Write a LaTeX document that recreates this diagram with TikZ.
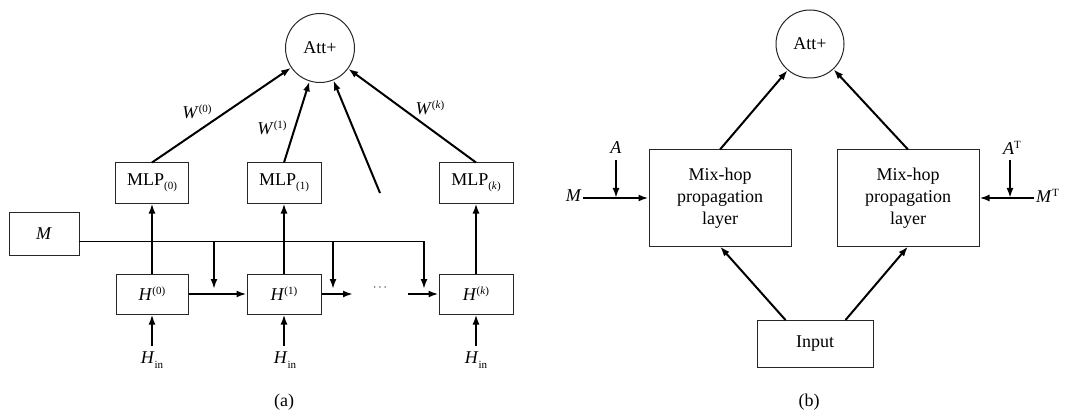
\documentclass[tikz,border=0pt]{standalone}
\usepackage{fontspec}
\setmainfont{Liberation Serif}
\usetikzlibrary{arrows.meta}
\newcommand{\sub}[1]{\raisebox{-0.55ex}{\fontsize{11}{12}\selectfont #1}}
\newcommand{\sups}[1]{\raisebox{0.75ex}{\fontsize{11}{12}\selectfont #1}}
\begin{document}
\begin{tikzpicture}[x=1pt,y=-1pt,
  every node/.style={font=\fontsize{18}{21}\selectfont, inner sep=0pt},
  box/.style={draw=black!85, line width=1pt},
  circ/.style={draw=black!85, line width=1pt, circle},
  arr/.style={line width=2pt, -{Latex[length=10pt,width=7pt]}},
  feed/.style={line width=1pt}
]
\useasboundingbox (0,0) rectangle (1070,414);

% ---------- (a) ----------
\node[circ, minimum size=69pt] (atta) at (320,48) {Att+};
\node[box, minimum width=73pt, minimum height=40pt] (mlp0) at (152,183) {MLP\sub{(0)}};
\node[box, minimum width=74pt, minimum height=40pt] (mlp1) at (284,183) {MLP\sub{(1)}};
\node[box, minimum width=74pt, minimum height=40pt] (mlpk) at (476,183) {MLP\sub{(\textit{k})}};
\node[box, minimum width=70pt, minimum height=43pt] (mbox) at (44,233.5) {\textit{M}};
\node[box, minimum width=72pt, minimum height=40pt] (h0) at (152,294) {\textit{H}\sups{(0)}};
\node[box, minimum width=74pt, minimum height=40pt] (h1) at (284,294) {\textit{H}\sups{(1)}};
\node[box, minimum width=74pt, minimum height=40pt] (hk) at (476,294) {\textit{H}\sups{(\textit{k})}};
\node[font=\fontsize{12}{14}\selectfont] (dots) at (380,288) {$\cdots$};
\node[anchor=north] (hin0) at (152,352) {\textit{H}\sub{in}};
\node[anchor=north] (hin1) at (285,352) {\textit{H}\sub{in}};
\node[anchor=north] (hink) at (476,352) {\textit{H}\sub{in}};
\coordinate (s0) at (152,346);
\coordinate (s1) at (284,346);
\coordinate (sk) at (476,346);

% weights into the attention sum
\draw[arr] (mlp0.north) -- (atta);
\draw[arr] (mlp1.north) -- (atta);
\draw[arr] (mlpk.north) -- (atta);
\coordinate (extra) at (380,193);
\draw[arr] (extra) -- (atta);
\node (w0) at (197,112) {\textit{W}\sups{(0)}};
\node (w1) at (272,128) {\textit{W}\sups{(1)}};
\node (wk) at (430,108) {\textit{W}\sups{(\textit{k})}};

% H to MLP
\draw[arr] (h0.north) -- (mlp0.south);
\draw[arr] (h1.north) -- (mlp1.south);
\draw[arr] (hk.north) -- (mlpk.south);

% inputs
\draw[arr] (s0) -- (h0.south);
\draw[arr] (s1) -- (h1.south);
\draw[arr] (sk) -- (hk.south);

% chain between hops
\draw[arr] (h0.east) -- (h1.west);
\coordinate (c1) at (353,294);
\draw[arr] (h1.east) -- (c1);
\coordinate (c2) at (408,294);
\draw[arr] (c2) -- (hk.west);

% M feed line
\coordinate (mout) at (79,241);
\coordinate (t1) at (214,241);
\coordinate (t2) at (333,241);
\coordinate (t3) at (424,241);
\coordinate (e1) at (214,289);
\coordinate (e2) at (333,289);
\coordinate (e3) at (424,289);
\draw[feed] (mout) -- (t3);
\draw[arr] (t1) -- (e1);
\draw[arr] (t2) -- (e2);
\draw[arr] (t3) -- (e3);

\node (capa) at (284,402) {(a)};

% ---------- (b) ----------
\node[circ, minimum size=68pt] (attb) at (810,44) {Att+};
\node[box, minimum width=142pt, minimum height=96pt, align=center, font=\fontsize{18}{22}\selectfont] (mixl) at (720,198) {Mix-hop\\propagation\\layer};
\node[box, minimum width=142pt, minimum height=96pt, align=center, font=\fontsize{18}{22}\selectfont] (mixr) at (908,198) {Mix-hop\\propagation\\layer};
\node[box, minimum width=116pt, minimum height=47pt] (inp) at (815,344) {Input};

\draw[arr] (mixl.north) -- (attb);
\draw[arr] (mixr.north) -- (attb);
\draw[arr] ([xshift=29pt]inp.north west) -- (mixl.south);
\draw[arr] ([xshift=-28pt]inp.north east) -- (mixr.south);

% left side inputs
\node[anchor=east] (ml) at (582,196) {\textit{M}};
\node (al) at (616,148) {\textit{A}};
\coordinate (ms) at (583,198);
\coordinate (as) at (616,160);
\coordinate (jl) at (616,198);
\draw[arr] (ms) -- (mixl.west);
\draw[arr] (as) -- (jl);

% right side inputs
\node[anchor=west] (mr) at (1036,196) {\textit{M}\sups{T}};
\node (ar) at (1012,148) {\textit{A}\sups{T}};
\coordinate (msr) at (1034,198);
\coordinate (asr) at (1010,160);
\coordinate (jr) at (1010,198);
\draw[arr] (msr) -- (mixr.east);
\draw[arr] (asr) -- (jr);

\node (capb) at (809,402) {(b)};
\end{tikzpicture}
\end{document}
